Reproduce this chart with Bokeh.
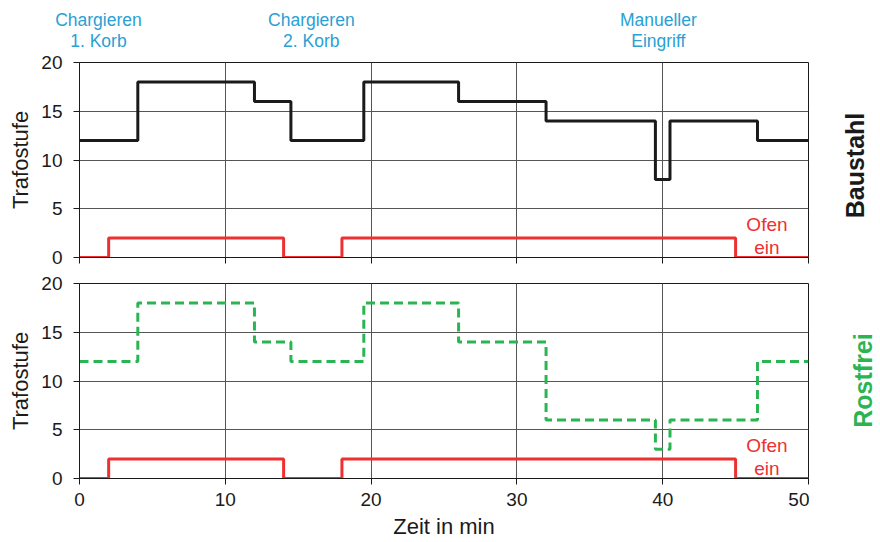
from math import pi
from bokeh.plotting import figure
from bokeh.layouts import column, row
from bokeh.models import Range1d, Label, CustomJSTickFormatter
from bokeh.embed import file_html
from bokeh.resources import INLINE

# ---------------- data ----------------
zeit = [0, 4, 12, 14.5, 19.5, 26, 32, 39.5, 40.5, 46.5, 50]
baustahl = [12, 18, 16, 12, 18, 16, 14, 8, 14, 12, 12]
rostfrei = [12, 18, 14, 12, 18, 14, 6, 3, 6, 12, 12]
ofen_zeit = [0, 2, 14, 18, 45, 50]
ofen_ein = [0, 2, 0, 2, 0, 0]
x_ticks = [0, 10, 20, 30, 40, 50]
y_ticks = [0, 5, 10, 15, 20]
event_x = [1.3, 15.9, 39.7]
event_line1 = ["Chargieren", "Chargieren", "Manueller"]
event_line2 = ["1. Korb", "2. Korb", "Eingriff"]

FONT = "Liberation Sans"
BLACK = "#1a1a1a"
RED = "#ee3030"
GREEN = "#2bb552"
BLUE = "#2aa0d4"
GRID = "#555555"

# ---------------- geometry ----------------
LEFT, FRAME_W, RIGHT = 79, 729, 72
FRAME_H = 195
HEADER_H = 51
TOP_B = (11, 12)
BOT_B = (14, 64)
SCALE = FRAME_W / 50.0


def blank(w, h, xr, yr):
    f = figure(frame_width=w, frame_height=h, min_border=0,
               min_border_left=0, min_border_right=0,
               min_border_top=0, min_border_bottom=0,
               x_range=xr, y_range=yr, x_axis_type=None, y_axis_type=None,
               output_backend="svg", toolbar_location=None)
    f.outline_line_color = None
    f.background_fill_color = "white"
    f.border_fill_color = "white"
    return f


def make_panel(top_border, bottom_border, show_x):
    p = figure(frame_width=FRAME_W, frame_height=FRAME_H,
               min_border_left=LEFT, min_border_right=1,
               min_border_top=top_border, min_border_bottom=bottom_border,
               x_range=Range1d(0, 50), y_range=Range1d(0, 20),
               output_backend="svg", toolbar_location=None)
    p.background_fill_color = "white"
    p.border_fill_color = "white"
    p.outline_line_color = BLACK
    p.outline_line_width = 1
    for ax in (p.xaxis[0], p.yaxis[0]):
        ax.axis_line_color = BLACK
        ax.major_tick_line_color = BLACK
        ax.major_tick_in = 0
        ax.major_tick_out = 6
        ax.minor_tick_line_color = None
        ax.major_label_text_font = FONT
        ax.major_label_text_font_size = "19px"
        ax.major_label_text_color = BLACK
        ax.axis_label_text_font = FONT
        ax.axis_label_text_font_style = "normal"
        ax.axis_label_text_font_size = "22px"
        ax.axis_label_text_color = BLACK
    p.xaxis.ticker = x_ticks
    p.yaxis.ticker = y_ticks
    p.yaxis.axis_label = "Trafostufe"
    p.yaxis.major_label_standoff = 11
    p.yaxis.axis_label_standoff = 5
    if show_x:
        p.xaxis.axis_label = "Zeit in min"
        p.xaxis.major_label_standoff = 8
        p.xaxis.axis_label_standoff = 5
    else:
        p.xaxis.formatter = CustomJSTickFormatter(code="return ''")
        p.xaxis.major_label_standoff = 0
    p.xgrid.grid_line_color = GRID
    p.ygrid.grid_line_color = GRID
    p.xgrid.grid_line_width = 1
    p.ygrid.grid_line_width = 1
    return p


# header with event annotations (same x mapping as the charts)
header = blank(LEFT + FRAME_W + RIGHT, HEADER_H,
               Range1d(-LEFT / SCALE, 50 + RIGHT / SCALE),
               Range1d(0, HEADER_H))
for ex, l1, l2 in zip(event_x, event_line1, event_line2):
    header.add_layout(Label(x=ex, y=HEADER_H - 19.5, text=l1,
                            text_align="center", text_baseline="middle",
                            text_font=FONT, text_font_size="17.5px",
                            text_color=BLUE))
    header.add_layout(Label(x=ex, y=HEADER_H - 40.8, text=l2,
                            text_align="center", text_baseline="middle",
                            text_font=FONT, text_font_size="17.5px",
                            text_color=BLUE))

top = make_panel(TOP_B[0], TOP_B[1], False)
bot = make_panel(BOT_B[0], BOT_B[1], True)

top.step(zeit, baustahl, mode="after", line_color=BLACK, line_width=3)
bot.step(zeit, rostfrei, mode="after", line_color=GREEN, line_width=3,
         line_dash="9 5")
for p in (top, bot):
    p.step(ofen_zeit, ofen_ein, mode="after", line_color=RED, line_width=3)
    p.add_layout(Label(x=47.15, y=3.4, text="Ofen", text_align="center",
                       text_baseline="middle", text_font=FONT,
                       text_font_size="19px", text_color=RED))
    p.add_layout(Label(x=47.15, y=1.0, text="ein", text_align="center",
                       text_baseline="middle", text_font=FONT,
                       text_font_size="19px", text_color=RED))

# right-hand side labels
TOP_H = TOP_B[0] + FRAME_H + TOP_B[1]
BOT_H = BOT_B[0] + FRAME_H + BOT_B[1]
SIDE_W = 880 - (LEFT + FRAME_W + 1)
rtop = blank(SIDE_W, TOP_H, Range1d(0, SIDE_W), Range1d(0, TOP_H))
rtop.add_layout(Label(x=45, y=TOP_H - (154 - HEADER_H), text="Baustahl",
                      angle=pi / 2, text_align="center",
                      text_baseline="middle", text_font=FONT,
                      text_font_size="25px", text_font_style="bold",
                      text_color=BLACK))
rbot = blank(SIDE_W, BOT_H, Range1d(0, SIDE_W), Range1d(0, BOT_H))
rbot.add_layout(Label(x=53, y=BOT_H - (366 - HEADER_H - TOP_H), text="Rostfrei",
                      angle=pi / 2, text_align="center",
                      text_baseline="middle", text_font=FONT,
                      text_font_size="25px", text_font_style="bold",
                      text_color=GREEN))

layout = column(header, row(top, rtop, spacing=0), row(bot, rbot, spacing=0),
                spacing=0)
open("out.html", "w").write(file_html(layout, INLINE))
